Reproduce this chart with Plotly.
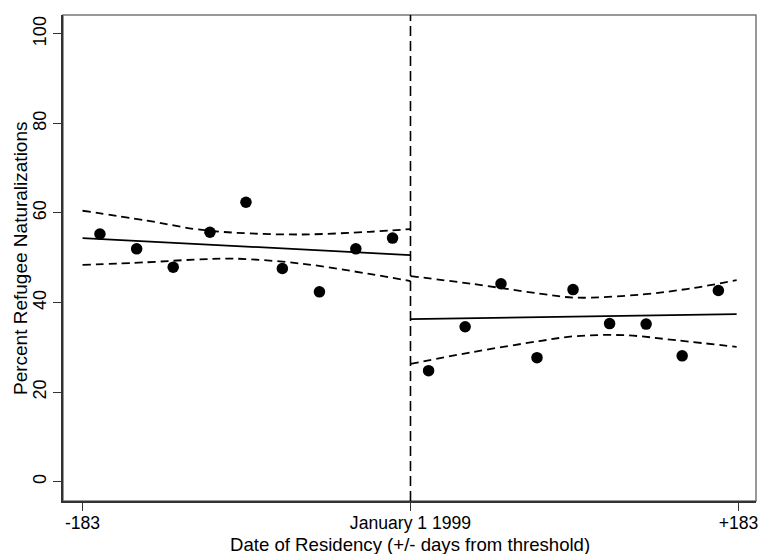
import plotly.graph_objects as go

# Binned means (days from threshold, percent naturalized)
left_days = [-173.3, -152.8, -132.4, -111.9, -91.8, -71.5, -50.8, -30.5, -10.0]
left_pct = [55.3, 52.0, 47.9, 55.7, 62.4, 47.6, 42.4, 52.0, 54.4]
right_days = [10.1, 30.5, 50.5, 70.6, 90.7, 111.1, 131.5, 151.6, 171.8]
right_pct = [24.8, 34.6, 44.2, 27.7, 42.9, 35.3, 35.2, 28.1, 42.7]

# Linear fits on each side of the threshold
left_fit_days = [-183, 0]
left_fit_pct = [54.4, 50.6]
right_fit_days = [0, 182]
right_fit_pct = [36.3, 37.4]

# Confidence bands around the fits
left_hi_days = [-183, -147, -120, -98, -61, -23, 0]
left_hi_pct = [60.5, 58.3, 56.4, 55.6, 55.2, 55.8, 56.4]
left_lo_days = [-183, -147, -120, -98, -61, -23, 0]
left_lo_pct = [48.4, 49.0, 49.6, 49.8, 48.7, 46.4, 44.8]
right_hi_days = [0, 34, 72, 92, 129, 157, 182]
right_hi_pct = [45.9, 44.2, 42.0, 41.1, 41.8, 43.2, 45.0]
right_lo_days = [0, 34, 72, 92, 120, 148, 182]
right_lo_pct = [26.3, 28.9, 31.4, 32.5, 32.7, 31.6, 30.1]

x_ticks = [-183, 0, 183]
x_tick_text = ["-183", "January 1 1999", "+183"]
y_ticks = [0, 20, 40, 60, 80, 100]

x_title = "Date of Residency (+/- days from threshold)"
y_title = "Percent Refugee Naturalizations"

FONT = "Liberation Sans, Arial, sans-serif"

fig = go.Figure()

band_style = dict(color="black", width=1.8, dash="8px,5px", shape="spline", smoothing=1.0)
for xs, ys in [(left_hi_days, left_hi_pct), (left_lo_days, left_lo_pct),
               (right_hi_days, right_hi_pct), (right_lo_days, right_lo_pct)]:
    fig.add_trace(go.Scatter(x=xs, y=ys, mode="lines", line=band_style,
                             hoverinfo="skip", showlegend=False))

for xs, ys in [(left_fit_days, left_fit_pct), (right_fit_days, right_fit_pct)]:
    fig.add_trace(go.Scatter(x=xs, y=ys, mode="lines",
                             line=dict(color="black", width=1.8),
                             showlegend=False))

fig.add_trace(go.Scatter(x=left_days + right_days, y=left_pct + right_pct,
                         mode="markers",
                         marker=dict(color="black", size=11.5, line=dict(width=0)),
                         showlegend=False))

# Threshold line
fig.add_shape(type="line", xref="x", yref="paper", x0=0, x1=0, y0=0, y1=1,
              line=dict(color="black", width=1.6, dash="10px,5px"))

# Plot region frame (light on top/right)
fig.add_shape(type="rect", xref="paper", yref="paper", x0=0, x1=1, y0=0, y1=1,
              line=dict(color="#777777", width=1.5), layer="below")

# Axis titles placed as annotations
fig.add_annotation(text=x_title, xref="paper", yref="paper", x=0.5, y=-0.0885,
                   xanchor="center", yanchor="middle", showarrow=False,
                   font=dict(size=18.6))
fig.add_annotation(text=y_title, xref="paper", yref="paper", x=-0.062, y=0.5,
                   xanchor="center", yanchor="middle", showarrow=False,
                   textangle=-90, font=dict(size=19))

fig.update_layout(
    width=760, height=554,
    margin=dict(l=63, r=4, t=15, b=53, autoexpand=False),
    paper_bgcolor="white", plot_bgcolor="white",
    font=dict(family=FONT, size=18, color="black"),
    showlegend=False,
)

fig.update_xaxes(
    range=[-193.9, 192.8], automargin=False,
    tickmode="array", tickvals=x_ticks, ticktext=x_tick_text,
    ticks="outside", ticklen=8, tickwidth=1.3, tickcolor="#333333",
    ticklabelstandoff=-3,
    showline=True, linecolor="#333333", linewidth=2,
    showgrid=False, zeroline=False,
    tickfont=dict(size=17.6),
)
fig.update_yaxes(
    range=[-4.3, 104.2], automargin=False,
    tickmode="array", tickvals=y_ticks,
    ticks="outside", ticklen=8, tickwidth=1.3, tickcolor="#333333",
    showline=True, linecolor="#333333", linewidth=2,
    showgrid=False, zeroline=False,
    tickangle=-90,
    tickfont=dict(size=18),
)

fig.write_html("out.html")
